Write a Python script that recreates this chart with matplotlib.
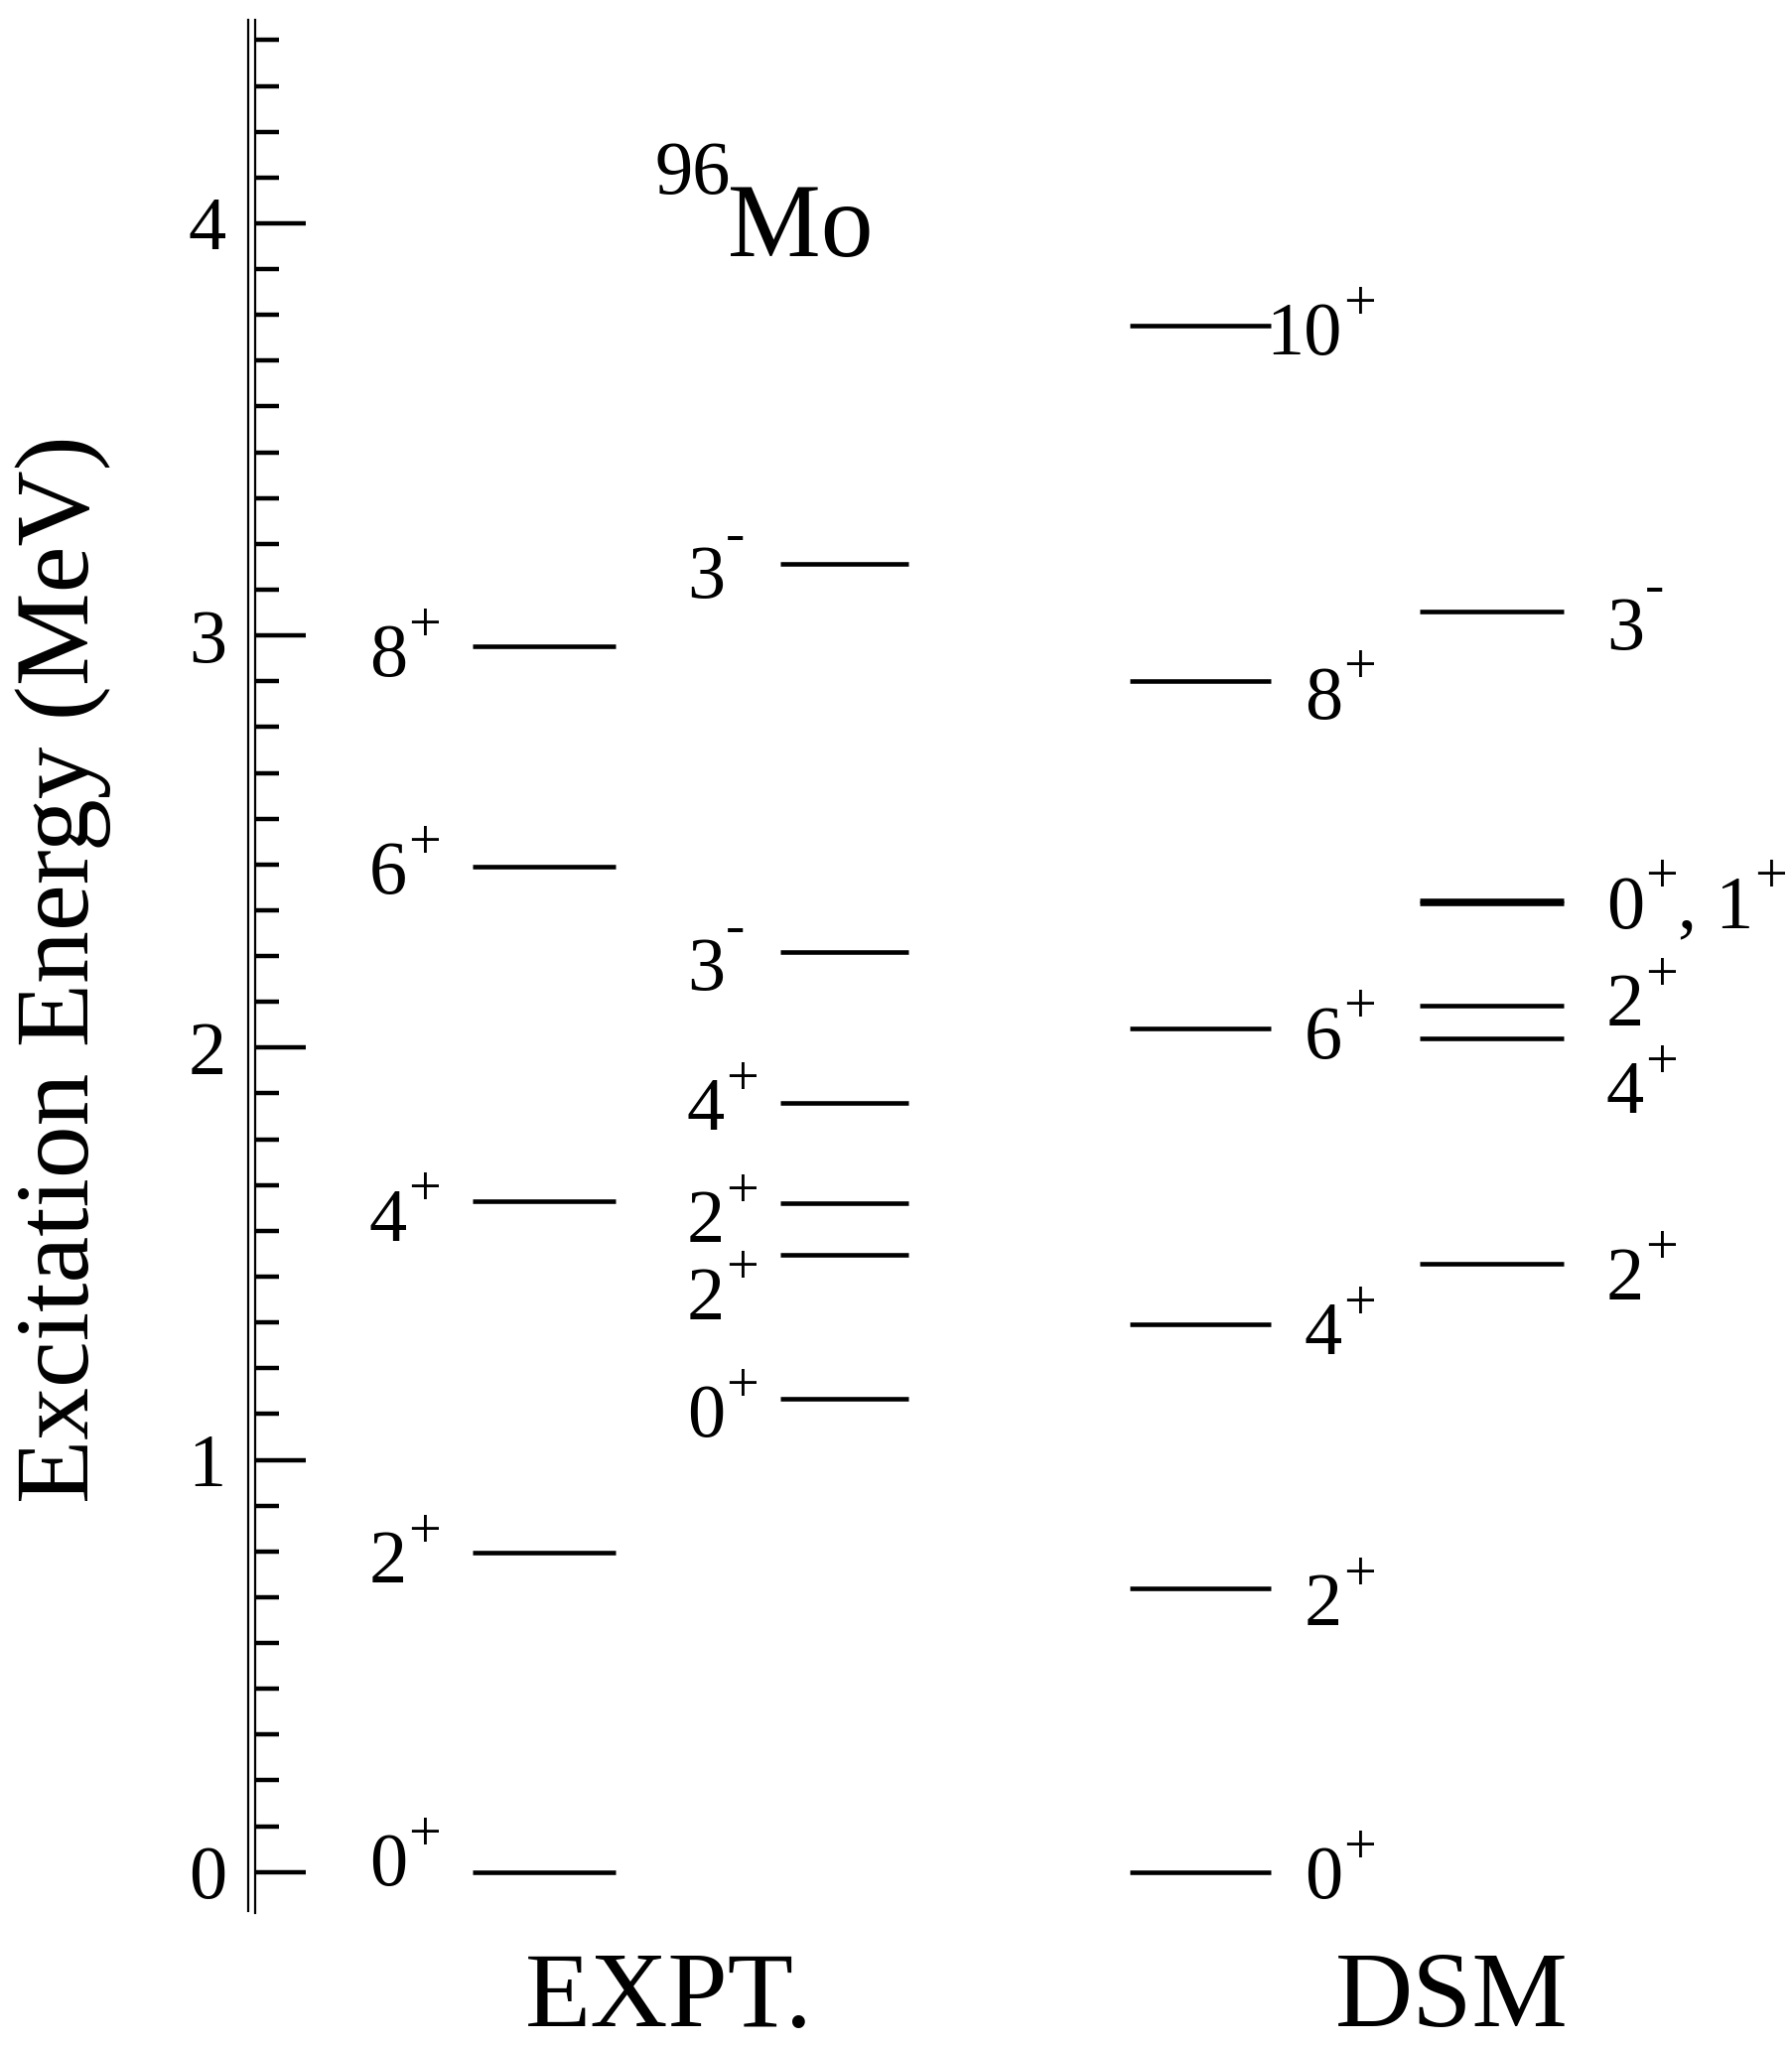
import numpy as np
import matplotlib
matplotlib.use('Agg')
from matplotlib import pyplot as plt
from matplotlib.ticker import FixedLocator

plt.rcParams['font.family'] = ['Liberation Serif', 'DejaVu Serif']

# ---- level energies (MeV) ----
# experiment, ground band
expt_gs_E = [0.0, 0.776, 1.627, 2.440, 2.975]
expt_gs_lab = [['0', '+'], ['2', '+'], ['4', '+'], ['6', '+'], ['8', '+']]
expt_gs_laby = [0.030, 0.766, 1.595, 2.437, 2.965]   # label centre

# experiment, other states
expt_oth_E = [1.149, 1.497, 1.623, 1.867, 2.231, 3.174]
expt_oth_lab = [['0', '+'], ['2', '+'], ['2', '+'], ['4', '+'], ['3', '-'], ['3', '-']]
expt_oth_laby = [1.120, 1.405, 1.592, 1.864, 2.203, 3.155]

# DSM, ground band
dsm_gs_E = [0.0, 0.687, 1.329, 2.047, 2.890, 3.751]
dsm_gs_lab = [['0', '+'], ['2', '+'], ['4', '+'], ['6', '+'], ['8', '+'], ['10', '+']]
dsm_gs_laby = [0.0, 0.661, 1.320, 2.038, 2.862, 3.745]

# DSM, other states (0+ and 1+ almost degenerate)
dsm_oth_E = [1.475, 2.022, 2.101, 2.350, 2.357, 3.057]
dsm_oth_lab = [['2', '+'], ['4', '+'], ['2', '+'], ['0', '+', ', 1', '+'], ['3', '-']]
dsm_oth_laby = [1.453, 1.905, 2.117, 2.354, 3.030]

yticks = [0, 1, 2, 3, 4]
col_names = ['EXPT.', 'DSM']

FS = 55        # label font size
FS_SUP = 42    # superscript size
HALF = 0.063   # half digit height in MeV

fig = plt.figure(figsize=(18.06, 20.61), dpi=100)
ax = fig.add_axes([257 / 1806, 134 / 2061, 1549 / 1806, 1907 / 2061])
ax.set_xlim(257, 1806)
ax.set_ylim(-0.0995, 4.4937)


def levels(E, x0, x1):
    ax.hlines(E, x0, x1, colors='k', linewidth=3.3)


def spin_label(xr, yc, parts):
    # first part right aligned at xr, then alternate superscript / normal
    t = ax.text(xr, yc - HALF, parts[0], ha='right', va='baseline', fontsize=FS)
    for i, p in enumerate(parts[1:]):
        if i % 2 == 0:
            dy = 0.050 if p == '-' else 0.022
            t = ax.annotate(p, xy=(1, yc + dy), xycoords=(t, 'data'),
                            xytext=(0.5, 0), textcoords='offset points',
                            ha='left', va='baseline', fontsize=FS_SUP)
        else:
            t = ax.annotate(p, xy=(1, yc - HALF), xycoords=(t, 'data'),
                            ha='left', va='baseline', fontsize=FS)


levels(expt_gs_E, 476, 620)
levels(expt_oth_E, 786, 915)
levels(dsm_gs_E, 1138, 1280)
levels(dsm_oth_E, 1430, 1575)

for lab, y in zip(expt_gs_lab, expt_gs_laby):
    spin_label(410, y, lab)
for lab, y in zip(expt_oth_lab, expt_oth_laby):
    spin_label(730, y, lab)
for lab, y in zip(dsm_gs_lab, dsm_gs_laby):
    spin_label(1352, y, lab)
for lab, y in zip(dsm_oth_lab, dsm_oth_laby):
    spin_label(1656, y, lab)

# nucleus name
ax.text(659, 4.072, '96', fontsize=FS, ha='left', va='baseline')
ax.text(733, 3.920, 'Mo', fontsize=76, ha='left', va='baseline')

# axes styling: double line on the left, ticks pointing inwards
for s in ['top', 'right', 'bottom']:
    ax.spines[s].set_visible(False)
ax.spines['left'].set_linewidth(1.6)
ax.plot([-7 / 1549, -7 / 1549], [0.001, 1.0], transform=ax.transAxes,
        color='k', linewidth=1.6, clip_on=False)
ax.set_xticks([])
ax.yaxis.set_major_locator(FixedLocator(yticks))
ax.yaxis.set_minor_locator(FixedLocator(np.arange(0, 41) / 9))
ax.set_yticklabels([str(v) for v in yticks])
ax.tick_params(axis='y', which='major', direction='in', length=36.7, width=3.2,
               pad=21, labelsize=FS)
ax.tick_params(axis='y', which='minor', direction='in', length=17.3, width=3.2)

fig.text(89 / 1806, 1 - 976 / 2061, 'Excitation Energy (MeV)', rotation=90,
         rotation_mode='anchor', ha='center', va='baseline', fontsize=76)
fig.text(674 / 1806, 20 / 2061, col_names[0], ha='center', va='baseline', fontsize=78)
fig.text(1462 / 1806, 20 / 2061, col_names[1], ha='center', va='baseline', fontsize=78)

plt.savefig('out.png', dpi=100)
plt.close()
